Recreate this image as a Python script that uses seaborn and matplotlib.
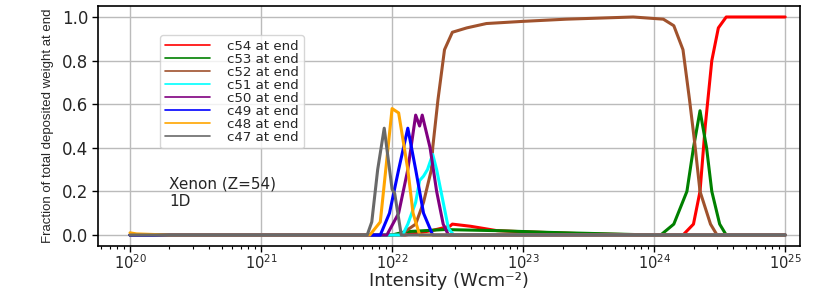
import numpy as np
import pandas as pd
import matplotlib
matplotlib.use("Agg")
import matplotlib.pyplot as plt
import seaborn as sns
from matplotlib.ticker import LogLocator, NullFormatter

# ---- data (log10 intensity, fraction) ----
labels = ["c54 at end", "c53 at end", "c52 at end", "c51 at end",
          "c50 at end", "c49 at end", "c48 at end", "c47 at end"]
colors = ["red", "green", "sienna", "cyan", "purple", "blue", "orange", "dimgray"]

c54_logI = [20.0, 22.1, 22.3, 22.44, 22.46, 22.6, 22.8, 23.0, 23.5, 24.0, 24.22, 24.30, 24.35, 24.39, 24.44, 24.49, 24.55, 25.0]
c54_frac = [0.0, 0.0, 0.02, 0.04, 0.05, 0.04, 0.02, 0.015, 0.005, 0.0, 0.0, 0.05, 0.2, 0.5, 0.8, 0.95, 1.0, 1.0]

c53_logI = [20.0, 22.0, 22.1, 22.4, 22.8, 23.2, 23.6, 24.0, 24.05, 24.15, 24.25, 24.30, 24.35, 24.40, 24.44, 24.50, 24.55, 25.0]
c53_frac = [0.0, 0.0, 0.015, 0.025, 0.02, 0.012, 0.006, 0.0, 0.0, 0.05, 0.2, 0.4, 0.57, 0.4, 0.2, 0.05, 0.0, 0.0]

c52_logI = [20.0, 22.06, 22.18, 22.24, 22.30, 22.31, 22.35, 22.40, 22.46, 22.57, 22.72, 23.0, 23.33, 23.84, 24.07, 24.15, 24.22, 24.27, 24.31, 24.35, 24.43, 24.48, 25.0]
c52_frac = [0.0, 0.0, 0.05, 0.15, 0.3, 0.4, 0.62, 0.85, 0.93, 0.95, 0.97, 0.98, 0.99, 1.0, 0.99, 0.96, 0.85, 0.62, 0.42, 0.2, 0.05, 0.0, 0.0]

c51_logI = [20.0, 22.08, 22.12, 22.18, 22.21, 22.24, 22.27, 22.31, 22.34, 22.39, 22.43, 22.47, 25.0]
c51_frac = [0.0, 0.0, 0.05, 0.15, 0.25, 0.27, 0.3, 0.37, 0.3, 0.15, 0.03, 0.0, 0.0]

c50_logI = [20.0, 21.96, 22.05, 22.12, 22.18, 22.21, 22.23, 22.29, 22.34, 22.39, 22.43, 25.0]
c50_frac = [0.0, 0.0, 0.1, 0.3, 0.55, 0.5, 0.55, 0.4, 0.2, 0.05, 0.0, 0.0]

c49_logI = [20.0, 21.91, 21.98, 22.05, 22.12, 22.18, 22.24, 22.31, 25.0]
c49_frac = [0.0, 0.0, 0.1, 0.3, 0.49, 0.3, 0.1, 0.0, 0.0]

c48_logI = [20.0, 20.05, 20.3, 21.83, 21.91, 21.95, 22.0, 22.05, 22.12, 22.16, 22.21, 25.0]
c48_frac = [0.01, 0.005, 0.0, 0.0, 0.06, 0.29, 0.58, 0.56, 0.3, 0.1, 0.0, 0.0]

c47_logI = [20.0, 21.81, 21.845, 21.89, 21.94, 22.0, 22.02, 22.07, 25.0]
c47_frac = [0.0, 0.0, 0.06, 0.3, 0.49, 0.21, 0.19, 0.0, 0.0]

series_logI = [c54_logI, c53_logI, c52_logI, c51_logI, c50_logI, c49_logI, c48_logI, c47_logI]
series_frac = [c54_frac, c53_frac, c52_frac, c51_frac, c50_frac, c49_frac, c48_frac, c47_frac]

rows = []
for lab, li, fr in zip(labels, series_logI, series_frac):
    for a, b in zip(li, fr):
        rows.append({"series": lab, "intensity": 10.0 ** a, "fraction": b})
df = pd.DataFrame(rows)

sns.set_theme(style="whitegrid")
plt.rcParams["font.family"] = ["DejaVu Sans"]

fig = plt.figure(figsize=(8.31, 2.90), dpi=100)
ax = fig.add_axes([0.118, 0.152, 0.845, 0.827])

for lab, col in zip(labels, colors):
    sub = df[df["series"] == lab]
    sns.lineplot(data=sub, x="intensity", y="fraction", color=col, lw=2.2,
                 ax=ax, label=lab, sort=False)

ax.set_xscale("log")
ax.set_xlim(10 ** 19.756, 10 ** 25.115)
ax.set_ylim(-0.05, 1.05)
ax.set_yticks([0.0, 0.2, 0.4, 0.6, 0.8, 1.0])
ax.set_yticklabels(["0.0", "0.2", "0.4", "0.6", "0.8", "1.0"])
ax.xaxis.set_major_locator(LogLocator(base=10, numticks=10))
ax.xaxis.set_minor_locator(LogLocator(base=10, subs=np.arange(2, 10), numticks=100))
ax.xaxis.set_minor_formatter(NullFormatter())
ax.grid(True, which="major", color="#bbbbbb", lw=1.0)
ax.grid(False, which="minor")
for s in ax.spines.values():
    s.set_color("black")
    s.set_linewidth(1.2)
ax.tick_params(axis="y", which="major", direction="out", length=4, width=1,
               color="black", labelsize=12, left=True, pad=3)
ax.tick_params(axis="x", which="major", direction="out", length=4, width=1,
               color="black", labelsize=10.5, bottom=True, pad=1)
ax.tick_params(axis="x", which="minor", direction="out", length=2.5, width=0.8,
               color="black", bottom=True)

ax.set_xlabel("Intensity (Wcm\u207b\u00b2)", fontsize=13, labelpad=0)
ax.set_ylabel("Fraction of total deposited weight at end", fontsize=9.5,
              family=["Liberation Sans", "DejaVu Sans"], labelpad=6)

ax.text(10 ** 20.3, 0.236, "Xenon (Z=54)", fontsize=11, va="center")
ax.text(10 ** 20.3, 0.155, "1D", fontsize=11, va="center")

leg = ax.legend(loc="upper left", bbox_to_anchor=(0.088, 0.88), fontsize=9.6,
                handlelength=3.4, labelspacing=0.0, frameon=True,
                borderpad=0.35, handletextpad=1.3, borderaxespad=0)
for h in leg.get_lines():
    h.set_linewidth(1.2)
leg.get_frame().set_edgecolor("#cccccc")

fig.savefig("out.png", dpi=100)
